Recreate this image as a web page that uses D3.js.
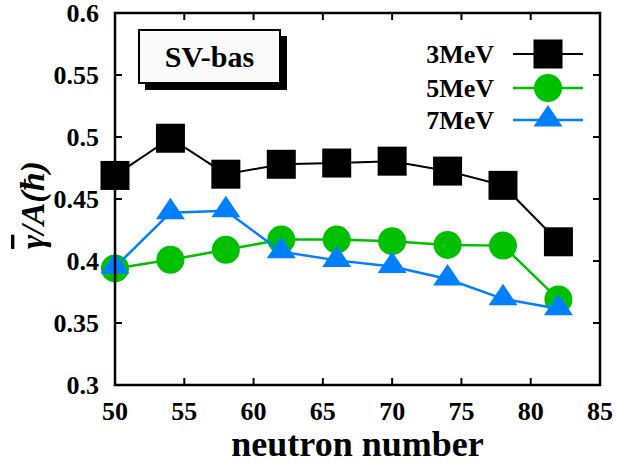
<!DOCTYPE html>
<html>
<head>
<meta charset="utf-8">
<script src="https://cdn.jsdelivr.net/npm/d3@7"></script>
<style>
  body { margin: 0; background: #fff; }
  text { font-family: "Liberation Serif", "Times New Roman", Times, serif; font-weight: bold; }
</style>
</head>
<body>
<svg id="chart" width="618" height="463"></svg>
<script>
// neutron numbers on the x axis
var neutrons = [50, 54, 58, 62, 66, 70, 74, 78, 82];
// series values
var mev3 = [0.469, 0.499, 0.470, 0.478, 0.479, 0.4805, 0.4725, 0.461, 0.4155];
var mev5 = [0.394, 0.401, 0.409, 0.4173, 0.4173, 0.416, 0.413, 0.4124, 0.369];
var mev7 = [0.395, 0.439, 0.4405, 0.4075, 0.4005, 0.3955, 0.3855, 0.3695, 0.3615];
var seriesNames = ["3MeV", "5MeV", "7MeV"];
var xTicks = [50, 55, 60, 65, 70, 75, 80, 85];
var yTicks = [0.3, 0.35, 0.4, 0.45, 0.5, 0.55, 0.6];

var plotL = 115, plotR = 600, plotT = 13, plotB = 385;
var svg = d3.select("#chart");

var x = d3.scaleLinear().domain([50, 85]).range([plotL, plotR]);
var y = d3.scaleLinear().domain([0.3, 0.6]).range([plotB, plotT]);

var series = [
  {name: seriesNames[0], values: mev3, color: "#000000", shape: "square", lw: 2},
  {name: seriesNames[1], values: mev5, color: "#00c000", shape: "circle", lw: 2.5},
  {name: seriesNames[2], values: mev7, color: "#0080ff", shape: "triangle", lw: 2.5}
];

function drawMarker(g, shape, cx, cy, color) {
  if (shape === "square") {
    g.append("rect")
      .attr("x", cx - 14.5).attr("y", cy - 14.5)
      .attr("width", 29).attr("height", 29)
      .attr("fill", color);
  } else if (shape === "circle") {
    g.append("circle")
      .attr("cx", cx).attr("cy", cy).attr("r", 14)
      .attr("fill", color);
  } else {
    g.append("path")
      .attr("d", "M" + cx + "," + (cy - 15) + "L" + (cx + 14.5) + "," + (cy + 6.5) +
        "L" + (cx - 14.5) + "," + (cy + 6.5) + "Z")
      .attr("fill", color);
  }
}

// ticks (inside, on all four sides)
var ticks = svg.append("g").attr("stroke", "#000").attr("stroke-width", 2);
xTicks.slice(1, -1).forEach(function (t) {
  ticks.append("line").attr("x1", x(t)).attr("x2", x(t)).attr("y1", plotB).attr("y2", plotB - 7);
  ticks.append("line").attr("x1", x(t)).attr("x2", x(t)).attr("y1", plotT).attr("y2", plotT + 7);
});
yTicks.slice(1, -1).forEach(function (t) {
  ticks.append("line").attr("x1", plotL).attr("x2", plotL + 7).attr("y1", y(t)).attr("y2", y(t));
  ticks.append("line").attr("x1", plotR).attr("x2", plotR - 7).attr("y1", y(t)).attr("y2", y(t));
});

// tick labels
svg.append("g").selectAll("text").data(xTicks).join("text")
  .attr("x", function (d) { return x(d); })
  .attr("y", 420)
  .attr("text-anchor", "middle")
  .attr("font-size", 26)
  .text(function (d) { return d; });

svg.append("g").selectAll("text").data(yTicks).join("text")
  .attr("x", 99)
  .attr("y", function (d) { return y(d) + 9; })
  .attr("text-anchor", "end")
  .attr("font-size", 26)
  .text(function (d) { return +d.toFixed(2); });

// axis titles
svg.append("text")
  .attr("x", (plotL + plotR) / 2)
  .attr("y", 456)
  .attr("text-anchor", "middle")
  .attr("font-size", 36)
  .text("neutron number");

var yl = svg.append("text")
  .attr("transform", "translate(44,205) rotate(-90)")
  .attr("text-anchor", "middle")
  .attr("font-size", 34)
  .attr("font-style", "italic");
yl.append("tspan").style("text-decoration", "overline").text("γ");
yl.append("tspan").text("/A(ħ)");

// series lines and markers
var line = d3.line()
  .x(function (d, i) { return x(neutrons[i]); })
  .y(function (d) { return y(d); });

series.forEach(function (s) {
  svg.append("path")
    .datum(s.values)
    .attr("d", line)
    .attr("fill", "none")
    .attr("stroke", s.color)
    .attr("stroke-width", s.lw);
  var g = svg.append("g");
  s.values.forEach(function (v, i) {
    drawMarker(g, s.shape, x(neutrons[i]), y(v), s.color);
  });
});

// frame
svg.append("rect")
  .attr("x", plotL).attr("y", plotT)
  .attr("width", plotR - plotL).attr("height", plotB - plotT)
  .attr("fill", "none").attr("stroke", "#000").attr("stroke-width", 2.5);

// SV-bas box with shadow
svg.append("rect").attr("x", 145).attr("y", 36).attr("width", 142).attr("height", 54).attr("fill", "#000");
svg.append("rect").attr("x", 139).attr("y", 30).attr("width", 141).attr("height", 53)
  .attr("fill", "#fafafa").attr("stroke", "#000").attr("stroke-width", 2);
svg.append("text")
  .attr("x", 209.5).attr("y", 67)
  .attr("text-anchor", "middle")
  .attr("font-size", 30)
  .text("SV-bas");

// legend
var legY = [54, 88, 120];
series.forEach(function (s, i) {
  svg.append("text")
    .attr("x", 494).attr("y", legY[i] + 9)
    .attr("text-anchor", "end")
    .attr("font-size", 26)
    .text(s.name);
  svg.append("line")
    .attr("x1", 513).attr("x2", 583)
    .attr("y1", legY[i]).attr("y2", legY[i])
    .attr("stroke", s.color).attr("stroke-width", s.lw);
  drawMarker(svg, s.shape, 548, legY[i], s.color);
});
</script>
</body>
</html>
